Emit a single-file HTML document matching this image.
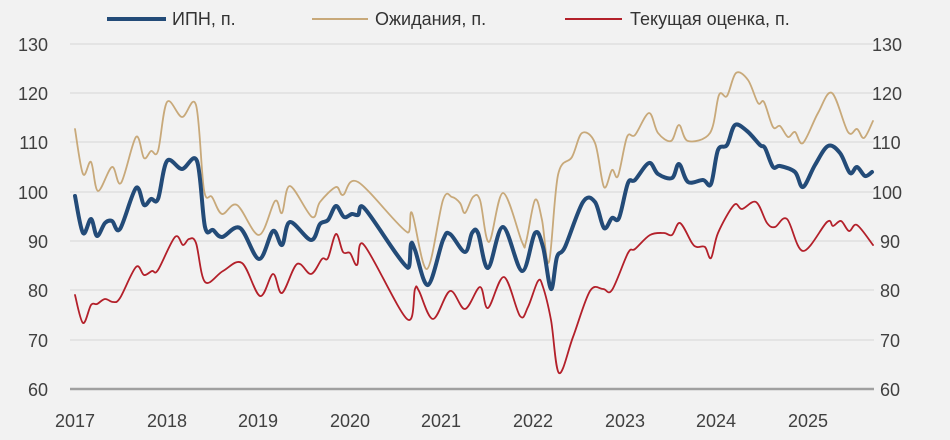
<!DOCTYPE html>
<html><head><meta charset="utf-8"><style>
body{margin:0;background:#f2f2f2;}
svg{display:block;font-family:"Liberation Sans","DejaVu Sans",sans-serif;}
</style></head><body>
<svg id="s" width="950" height="440" viewBox="0 0 950 440">
<rect width="950" height="440" fill="#f2f2f2"/>
<g stroke="#e0e0e0" stroke-width="1.5">
<line x1="70" x2="874" y1="44" y2="44"/><line x1="70" x2="874" y1="93" y2="93"/>
<line x1="70" x2="874" y1="142" y2="142"/><line x1="70" x2="874" y1="192" y2="192"/>
<line x1="70" x2="874" y1="241" y2="241"/><line x1="70" x2="874" y1="290" y2="290"/>
<line x1="70" x2="874" y1="340" y2="340"/>
</g>
<line x1="70" x2="874" y1="389" y2="389" stroke="#a0a0a0" stroke-width="2.5"/>
<g font-size="18" fill="#404040" text-anchor="end">
<text x="48" y="51">130</text><text x="48" y="100">120</text><text x="48" y="149">110</text>
<text x="48" y="199">100</text><text x="48" y="248">90</text><text x="48" y="297">80</text>
<text x="48" y="347">70</text><text x="48" y="396">60</text>
</g>
<g font-size="18" fill="#404040" text-anchor="start">
<text x="872" y="51">130</text><text x="872" y="100">120</text><text x="872" y="149">110</text>
<text x="872" y="199">100</text><text x="880" y="248">90</text><text x="880" y="297">80</text>
<text x="880" y="347">70</text><text x="880" y="396">60</text>
</g>
<g font-size="18" fill="#404040" text-anchor="middle">
<text x="75" y="427">2017</text><text x="167" y="427">2018</text><text x="258" y="427">2019</text>
<text x="350" y="427">2020</text><text x="441" y="427">2021</text><text x="533" y="427">2022</text>
<text x="625" y="427">2023</text><text x="716" y="427">2024</text><text x="808" y="427">2025</text>
</g>
<g fill="none" stroke-linejoin="round" stroke-linecap="round">
<polyline class="sm" stroke="#c8a97a" stroke-width="1.8" points="75,129 83,174 91,162 98,191 112,167 121,183 136,137 144,158 151,151 158,151 167,102 182,117 196,105 204,190 212,197 222,214 237,205 259,235 275,201 282,213 290,186 312,217 320,202 336,187 343,195 358,182 407,232 412,213 427,269 443,200 452,197 460,203 465,213 473,197 480,200 489,242 503,193 522,242 526,242 535,200 542,220 549,262 558,175 572,157 582,133 595,143 604,187 612,170 618,176 627,137 635,135 649,113 658,133 671,141 679,125 688,141 710,133 719,95 727,96 736,73 748,80 758,103 764,102 773,127 780,126 788,137 795,132 803,143 818,113 832,93 848,132 857,129 864,138 873,121"/>
<polyline class="sm" stroke="#b3202a" stroke-width="1.8" points="75,295 83,323 91,305 97,304 105,299 113,302 120,298 136,267 144,275 152,271 158,270 175,237 183,245 189,239 196,243 205,282 223,271 242,263 260,296 273,274 282,293 297,264 311,274 322,259 328,258 336,234 343,252 350,253 357,265 364,245 407,319 415,289 419,291 433,319 450,291 465,309 480,287 488,308 504,277 520,316 528,307 538,281 543,287 551,320 559,373 573,337 590,291 603,289 612,290 628,253 635,249 650,235 664,233 672,235 680,223 692,243 697,247 705,247 711,258 718,233 734,205 742,209 756,202 767,223 775,227 787,219 803,251 827,222 833,226 841,221 849,231 857,225 873,245"/>
<polyline class="sm" stroke="#234b78" stroke-width="4" points="75,196 83,233 91,219 97,236 105,223 112,221 120,229 136,188 144,205 151,199 158,199 167,161 182,169 197,161 205,227 213,230 222,237 240,228 259,259 273,231 282,245 290,222 311,240 320,224 328,220 336,206 344,217 352,214 358,215 365,209 407,267 411,244 415,250 428,285 443,240 450,234 465,252 472,233 478,233 488,268 503,227 522,271 535,233 543,247 551,289 557,257 565,247 583,202 595,202 604,228 612,218 619,218 628,183 635,180 649,163 658,174 672,178 679,164 688,182 703,180 711,184 718,150 727,145 735,125 747,131 760,145 765,148 773,167 780,166 795,172 803,187 815,165 828,146 840,153 850,173 857,167 865,176 872,172"/>
</g>
<line x1="107" x2="166" y1="19" y2="19" stroke="#234b78" stroke-width="4"/>
<line x1="312" x2="368" y1="19" y2="19" stroke="#c8a97a" stroke-width="2"/>
<line x1="565" x2="622" y1="19" y2="19" stroke="#b3202a" stroke-width="2"/>
<g font-size="18" fill="#333">
<text x="172" y="25">ИПН, п.</text>
<text x="375" y="25">Ожидания, п.</text>
<text x="630" y="25">Текущая оценка, п.</text>
</g>
</svg>
<script>
document.querySelectorAll('polyline.sm').forEach(function(pl){
  var p=pl.getAttribute('points').trim().split(/\s+/).map(function(s){return s.split(',').map(Number);});
  var d='M'+p[0][0]+','+p[0][1];
  for(var i=0;i<p.length-1;i++){
    var p0=p[i-1]||p[i],p1=p[i],p2=p[i+1],p3=p[i+2]||p2,t=0.35/1;
    var c1x=p1[0]+(p2[0]-p0[0])/6,c1y=p1[1]+(p2[1]-p0[1])/6;
    var c2x=p2[0]-(p3[0]-p1[0])/6,c2y=p2[1]-(p3[1]-p1[1])/6;
    c1x=Math.min(Math.max(c1x,p1[0]),p2[0]);c2x=Math.min(Math.max(c2x,p1[0]),p2[0]);
    d+=' C'+c1x.toFixed(1)+','+c1y.toFixed(1)+' '+c2x.toFixed(1)+','+c2y.toFixed(1)+' '+p2[0]+','+p2[1];
  }
  var path=document.createElementNS('http://www.w3.org/2000/svg','path');
  ['stroke','stroke-width'].forEach(function(a){path.setAttribute(a,pl.getAttribute(a));});
  path.setAttribute('d',d);
  pl.parentNode.replaceChild(path,pl);
});
</script>
</body></html>
